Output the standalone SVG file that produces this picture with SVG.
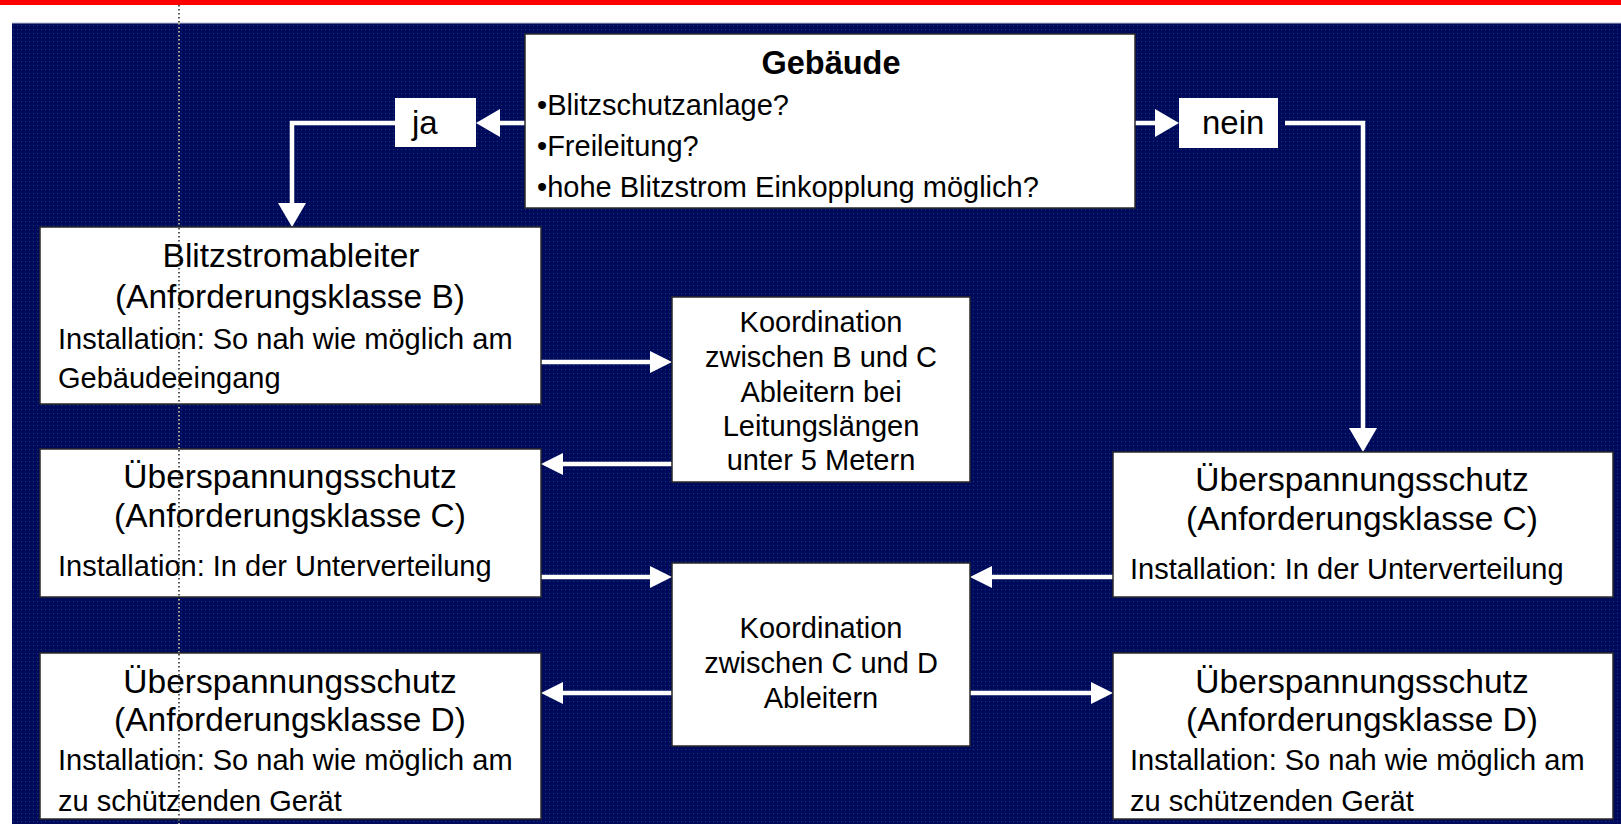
<svg xmlns="http://www.w3.org/2000/svg" width="1621" height="824" viewBox="0 0 1621 824">
<defs>
<pattern id="dots" width="4" height="4" patternUnits="userSpaceOnUse">
<rect width="4" height="4" fill="#000a5c"/>
<rect x="1" y="1" width="1" height="1" fill="#123f68"/>
</pattern>
<marker id="ah" markerUnits="userSpaceOnUse" markerWidth="22" markerHeight="22" refX="0" refY="11" orient="auto" viewBox="0 0 22 22"><path d="M0,0 L22,11 L0,22 Z" fill="#ffffff"/></marker>
<marker id="ahL" markerUnits="userSpaceOnUse" markerWidth="24" markerHeight="28" refX="0" refY="14" orient="auto" viewBox="0 0 24 28"><path d="M0,0 L24,14 L0,28 Z" fill="#ffffff"/></marker>
</defs>
<style>
.box{fill:#ffffff;stroke:#2a2a2a;stroke-width:1.5}
.lbl{fill:#ffffff;stroke:none}
text{font-family:"Liberation Sans",Arial,Helvetica,sans-serif;fill:#000000}
.t{font-size:33.5px;text-anchor:middle}
.b{font-size:29px}
.c{font-size:29px;text-anchor:middle}
.h{font-size:32.5px;font-weight:bold;text-anchor:middle}
.yn{font-size:33px}
.con{fill:none;stroke:#ffffff;stroke-width:4.5;stroke-linejoin:miter}
.sm{marker-end:url(#ah)}
.lg{marker-end:url(#ahL)}
.guideY{stroke:#e9e2a0;stroke-width:1.5;stroke-dasharray:1.5 2.5;fill:none}
.guideK{stroke:#222222;stroke-width:1.5;stroke-dasharray:1.5 2.5;fill:none}
</style>

<g id="background">
<rect x="0" y="0" width="1621" height="824" fill="#ffffff"/>
<rect x="12" y="23" width="1609" height="801" fill="url(#dots)"/>
<line x1="12" y1="23" x2="1621" y2="23" stroke="#b8bcd0" stroke-width="1"/>
<rect x="0" y="0" width="1621" height="5" fill="#ff0000"/>
<line class="guideY" x1="179" y1="23" x2="179" y2="824"/>
<line class="guideK" x1="179" y1="5" x2="179" y2="23"/>
</g>

<g id="connectors">
<path class="con lg" d="M525,123 H500"/>
<path class="con lg" d="M395,123 H292 V203"/>
<path class="con lg" d="M1135,123 H1155"/>
<path class="con lg" d="M1285,123 H1363 V428"/>
<path class="con sm" d="M541,362 H650"/>
<path class="con sm" d="M672,464 H563"/>
<path class="con sm" d="M541,577 H650"/>
<path class="con sm" d="M1113,577 H992"/>
<path class="con sm" d="M672,693 H563"/>
<path class="con sm" d="M970,693 H1091"/>
</g>

<g id="gebaeude">
<rect class="box" x="525" y="34" width="610" height="174"/>
<text class="h" x="831" y="74">Gebäude</text>
<text class="b" x="537" y="115">•Blitzschutzanlage?</text>
<text class="b" x="537" y="156">•Freileitung?</text>
<text class="b" x="537" y="197">•hohe Blitzstrom Einkopplung möglich?</text>
</g>

<g id="ja">
<rect class="lbl" x="395" y="98" width="81" height="49"/>
<text class="yn" x="412" y="134">ja</text>
</g>

<g id="nein">
<rect class="lbl" x="1179" y="98" width="99" height="50"/>
<text class="yn" x="1202" y="134">nein</text>
</g>

<g id="blitzstromableiter">
<rect class="box" x="40" y="227" width="501" height="177"/>
<text class="t" x="291" y="267">Blitzstromableiter</text>
<text class="t" x="290" y="308">(Anforderungsklasse B)</text>
<text class="b" x="58" y="349">Installation: So nah wie möglich am</text>
<text class="b" x="58" y="388">Gebäudeeingang</text>
</g>

<g id="koordination-bc">
<rect class="box" x="672" y="297" width="298" height="185"/>
<text class="c" x="821" y="332">Koordination</text>
<text class="c" x="821" y="367">zwischen B und C</text>
<text class="c" x="821" y="402">Ableitern bei</text>
<text class="c" x="821" y="436">Leitungslängen</text>
<text class="c" x="821" y="470">unter 5 Metern</text>
</g>

<g id="ueberspannung-c-links">
<rect class="box" x="40" y="449" width="501" height="148"/>
<text class="t" x="290" y="488">Überspannungsschutz</text>
<text class="t" x="290" y="527">(Anforderungsklasse C)</text>
<text class="b" x="58" y="576">Installation: In der Unterverteilung</text>
</g>

<g id="ueberspannung-c-rechts">
<rect class="box" x="1113" y="452" width="500" height="145"/>
<text class="t" x="1362" y="491">Überspannungsschutz</text>
<text class="t" x="1362" y="530">(Anforderungsklasse C)</text>
<text class="b" x="1130" y="579">Installation: In der Unterverteilung</text>
</g>

<g id="koordination-cd">
<rect class="box" x="672" y="563" width="298" height="183"/>
<text class="c" x="821" y="638">Koordination</text>
<text class="c" x="821" y="673">zwischen C und D</text>
<text class="c" x="821" y="708">Ableitern</text>
</g>

<g id="ueberspannung-d-links">
<rect class="box" x="40" y="653" width="501" height="166"/>
<text class="t" x="290" y="693">Überspannungsschutz</text>
<text class="t" x="290" y="731">(Anforderungsklasse D)</text>
<text class="b" x="58" y="770">Installation: So nah wie möglich am</text>
<text class="b" x="58" y="811">zu schützenden Gerät</text>
</g>

<g id="ueberspannung-d-rechts">
<rect class="box" x="1113" y="653" width="500" height="166"/>
<text class="t" x="1362" y="693">Überspannungsschutz</text>
<text class="t" x="1362" y="731">(Anforderungsklasse D)</text>
<text class="b" x="1130" y="770">Installation: So nah wie möglich am</text>
<text class="b" x="1130" y="811">zu schützenden Gerät</text>
</g>

<g id="guide-overlay">
<line class="guideK" x1="179" y1="228" x2="179" y2="403"/>
<line class="guideK" x1="179" y1="450" x2="179" y2="596"/>
<line class="guideK" x1="179" y1="654" x2="179" y2="818"/>
</g>
</svg>
